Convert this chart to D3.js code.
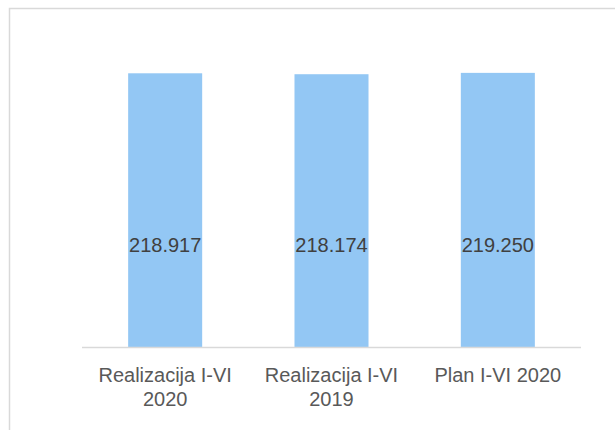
<!DOCTYPE html>
<html>
<head>
<meta charset="utf-8">
<script src="https://cdn.jsdelivr.net/npm/d3@7"></script>
<style>
  body { margin: 0; background: #fff; }
  text { font-family: "Liberation Sans", Arial, sans-serif; }
</style>
</head>
<body>
<div id="chart"></div>
<script>
/* Data */
var categories = [["Realizacija I-VI", "2020"], ["Realizacija I-VI", "2019"], ["Plan I-VI 2020"]];
var values = [218.917, 218.174, 219.250];
var valueLabels = ["218.917", "218.174", "219.250"];

/* Dimensions */
var width = 615, height = 430;
var plot = {left: 82, right: 581, bottom: 347};

var svg = d3.select("#chart").append("svg")
    .attr("width", width)
    .attr("height", height);

/* Outer frame, it runs past the right and bottom edges */
svg.append("rect")
    .attr("x", 9.5)
    .attr("y", 8.5)
    .attr("width", 640)
    .attr("height", 460)
    .attr("fill", "none")
    .attr("stroke", "#d9d9d9")
    .attr("stroke-width", 1.5);

var x = d3.scaleBand()
    .domain(d3.range(categories.length))
    .range([plot.left, plot.right])
    .paddingInner(0.555)
    .paddingOuter(0.2775);

var y = d3.scaleLinear()
    .domain([0, 250])
    .range([plot.bottom, plot.bottom - 250 * 1.2503]);

/* Bars */
svg.selectAll(".bar")
    .data(values)
    .enter().append("rect")
    .attr("class", "bar")
    .attr("x", function(d, i) { return x(i); })
    .attr("y", function(d) { return y(d); })
    .attr("width", x.bandwidth())
    .attr("height", function(d) { return y(0) - y(d); })
    .attr("fill", "#93c7f4");

/* Value labels */
svg.selectAll(".val")
    .data(values)
    .enter().append("text")
    .attr("class", "val")
    .attr("x", function(d, i) { return x(i) + x.bandwidth() / 2; })
    .attr("y", 252)
    .attr("text-anchor", "middle")
    .attr("font-size", 20)
    .attr("fill", "#404040")
    .text(function(d, i) { return valueLabels[i]; });

/* Category axis */
svg.append("line")
    .attr("x1", plot.left)
    .attr("x2", plot.right)
    .attr("y1", plot.bottom + 0.5)
    .attr("y2", plot.bottom + 0.5)
    .attr("stroke", "#d9d9d9")
    .attr("stroke-width", 1.5);

var cats = svg.selectAll(".cat")
    .data(categories)
    .enter().append("text")
    .attr("class", "cat")
    .attr("text-anchor", "middle")
    .attr("font-size", 20)
    .attr("fill", "#595959");

cats.selectAll("tspan")
    .data(function(d, i) { return d.map(function(t) { return {t: t, i: i}; }); })
    .enter().append("tspan")
    .attr("x", function(d) { return x(d.i) + x.bandwidth() / 2; })
    .attr("y", function(d, j) { return 382 + j * 24; })
    .text(function(d) { return d.t; });
</script>
</body>
</html>
